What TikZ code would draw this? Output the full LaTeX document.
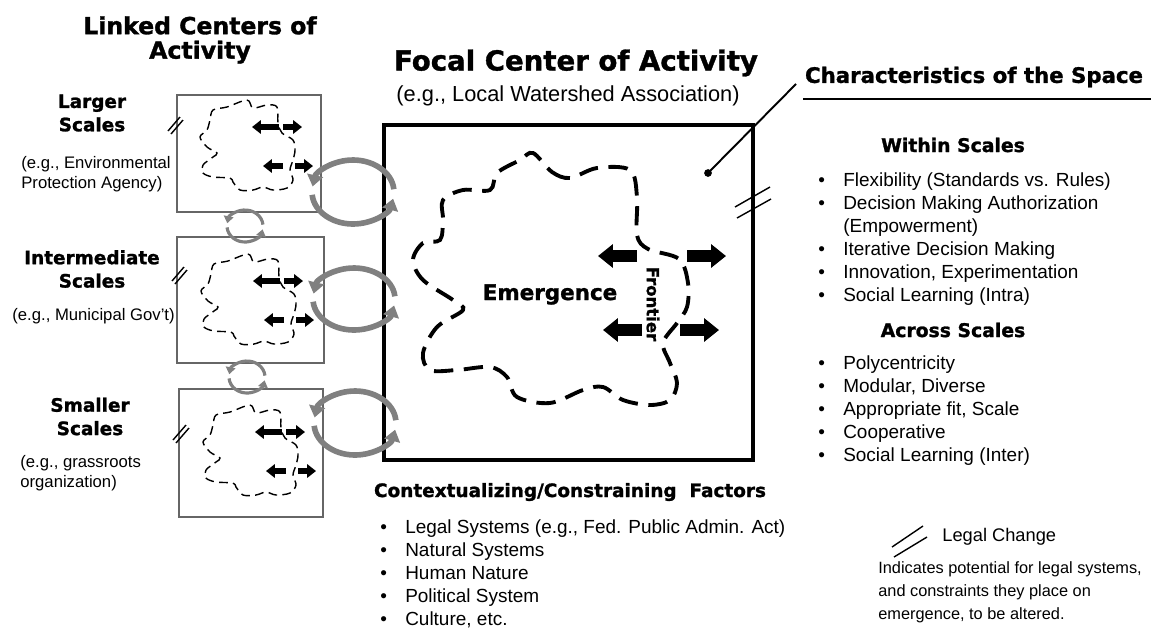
\documentclass[tikz,border=0pt]{standalone}
\usepackage{fontspec}
\setmainfont{Liberation Sans}
\newfontfamily\headfont{DejaVu Sans}[BoldFeatures={FakeBold=1.3}]
\usetikzlibrary{arrows.meta}

\tikzset{
  every node/.style={inner sep=0pt},
  scalebox/.style={draw=black!60, line width=0.8pt},
  focalbox/.style={draw=black, line width=2.3pt},
  bigcloud/.style={line width=2.2pt, dash pattern=on 11pt off 6pt},
  smallcloud/.style={line width=0.8pt, dash pattern=on 5pt off 3pt},
  pushbig/.style={line width=6.3pt, -{Triangle[width=13pt,length=8.5pt]}},
  pushsmall/.style={line width=3.4pt, -{Triangle[width=7.5pt,length=5pt]}},
  loopbig/.style={draw=black!50, line width=3.2pt, -{Triangle[width=9pt,length=6.5pt]}},
  loopsmall/.style={draw=black!50, line width=1.8pt, -{Triangle[width=5.5pt,length=4pt]}},
  legal/.style={line width=0.8pt},
  heading/.style={font=\headfont\bfseries\fontsize{13.4}{13.9}\selectfont, align=center},
  scalename/.style={font=\headfont\bfseries\fontsize{10.5}{13.3}\selectfont, align=center},
  listhead/.style={font=\headfont\bfseries\fontsize{10.7}{12}\selectfont},
  example/.style={font=\fontsize{9.5}{11.4}\selectfont, align=left, anchor=west},
  body/.style={font=\fontsize{10.8}{13.1}\selectfont},
  % one linked center: cloud plus frontier arrows
  subcenter/.pic={
    \draw[smallcloud] plot[smooth cycle, tension=0.55] coordinates {
      (50,12) (70,5) (76,13) (90,10) (100,12) (101,28) (105,38) (116,45)
      (118,55) (116,65) (113,75) (116,85) (110,93) (96,95) (86,92) (76,95)
      (63,95) (56,87) (53,83) (36,82) (26,78) (26,70) (36,62) (40,58)
      (30,52) (23,42) (30,35) (33,25) (36,15)};
    \draw[pushsmall] (102,32) -- (75,32);
    \draw[pushsmall] (106,32) -- (125,32);
    \draw[pushsmall] (106,71) -- (86,71);
    \draw[pushsmall] (118,71) -- (136,71);
  }
}

\begin{document}
\begin{tikzpicture}[x=0.02cm, y=-0.02cm]
  \useasboundingbox (0,0) rectangle (1151,640);

  % linked centers of activity
  \node[heading] (linked) at (200,40) {Linked Centers of\\Activity};

  \draw[scalebox] (177,95) rectangle (321,212);
  \draw[scalebox] (177,237) rectangle (324,363);
  \draw[scalebox] (179,389) rectangle (323,517);
  \pic at (177,95) {subcenter};
  \pic at (178,249) {subcenter};
  \pic at (180,400) {subcenter};

  \node[scalename] (larger) at (92,113) {Larger\\Scales};
  \node[example] (largereg) at (21,174) {(e.g., Environmental\\Protection Agency)};
  \node[scalename] (inter) at (92,269) {Intermediate\\Scales};
  \node[example] (intereg) at (12,316) {(e.g., Municipal Gov't)};
  \node[scalename] (smaller) at (90,416.5) {Smaller\\Scales};
  \node[example] (smallereg) at (20,473) {(e.g., grassroots\\organization)};

  % legal change marks
  \draw[legal] (168,131) -- (180,117);
  \draw[legal] (171,134) -- (183,120);
  \draw[legal] (172,281) -- (184,267);
  \draw[legal] (175,284) -- (187,270);
  \draw[legal] (173,440) -- (186,425);
  \draw[legal] (176,443) -- (189,428);

  % focal center of activity
  \node[heading, font=\headfont\bfseries\fontsize{15.7}{17}\selectfont] (focalhead) at (576,63) {Focal Center of Activity};
  \node[font=\fontsize{12.4}{14}\selectfont] (focalsub) at (568,96) {(e.g., Local Watershed Association)};
  \draw[focalbox] (384,125) rectangle (753,460);
  \draw[bigcloud] plot[smooth cycle, tension=0.55] coordinates {
    (533,153) (552,172) (570,178) (597,168) (630,170) (637,197) (637,235)
    (648,249) (679,259) (688,283) (687,307) (677,323) (663,343) (670,363)
    (677,383) (670,400) (650,405) (623,400) (603,387) (583,390) (550,403)
    (517,397) (507,377) (490,367) (457,370) (430,370) (423,353) (437,327)
    (463,310) (453,300) (423,280) (413,260) (423,243) (440,240) (443,220)
    (443,200) (463,190) (490,190) (497,173) (520,160)};
  \node[font=\headfont\bfseries\fontsize{12.2}{14}\selectfont, anchor=base] (emergence) at (550,300) {Emergence};
  \node[font=\headfont\bfseries\fontsize{9.4}{11}\selectfont, rotate=-90] (frontier) at (653,304) {Frontier};
  \draw[pushbig] (637,256) -- (598,256);
  \draw[pushbig] (642,330) -- (603,330);
  \draw[pushbig] (687,256) -- (726,256);
  \draw[pushbig] (680,330) -- (719,330);
  \draw[legal] (735,207) -- (770,187);
  \draw[legal] (737,218) -- (771,199);

  % exchanges between centers
  \coordinate (c1) at (353,192);
  \coordinate (c2) at (354,299);
  \coordinate (c3) at (355,423);
  \coordinate (s1) at (245,226);
  \coordinate (s2) at (247,377);
  \foreach \c/\ry in {c1/32, c2/31, c3/32} {
    \draw[loopbig] (\c) ++(-5:41 and \ry) arc[start angle=-5, end angle=-170, x radius=41, y radius=\ry];
    \draw[loopbig] (\c) ++(175:41 and \ry) arc[start angle=175, end angle=12, x radius=41, y radius=\ry];
  }
  \foreach \c in {s1, s2} {
    \draw[loopsmall] (\c) ++(-5:18 and 16) arc[start angle=-5, end angle=-170, x radius=18, y radius=16];
    \draw[loopsmall] (\c) ++(175:18 and 16) arc[start angle=175, end angle=12, x radius=18, y radius=16];
  }

  % characteristics of the space
  \node[font=\headfont\bfseries\fontsize{12.1}{14}\selectfont] (charhead) at (974,77) {Characteristics of the Space};
  \coordinate (spot) at (708,173);
  \coordinate (pointer) at (796,84);
  \fill (spot) circle (2.2pt);
  \draw[line width=1.1pt] (spot) -- (pointer);
  \draw[line width=1.1pt] (803,99) -- (1151,99);

  \node[listhead] (within) at (953,145) {Within Scales};
  \node[body, anchor=base west] (withinlist) at (818,186.7) {%
    \begin{tabular}[t]{@{}l@{\hspace{10.4pt}}l@{}}
      \textbullet & Flexibility (Standards vs. Rules)\\
      \textbullet & Decision Making Authorization\\
                  & (Empowerment)\\
      \textbullet & Iterative Decision Making\\
      \textbullet & Innovation, Experimentation\\
      \textbullet & Social Learning (Intra)
    \end{tabular}};
  \node[listhead] (across) at (953,330) {Across Scales};
  \node[body, anchor=base west] (acrosslist) at (818,369.7) {%
    \begin{tabular}[t]{@{}l@{\hspace{10.4pt}}l@{}}
      \textbullet & Polycentricity\\
      \textbullet & Modular, Diverse\\
      \textbullet & Appropriate fit, Scale\\
      \textbullet & Cooperative\\
      \textbullet & Social Learning (Inter)
    \end{tabular}};

  % contextualizing factors
  \node[listhead, font=\headfont\bfseries\fontsize{10.5}{12}\selectfont] (context) at (570,492) {Contextualizing/Constraining\ \ Factors};
  \node[body, anchor=base west] (contextlist) at (380,533.7) {%
    \begin{tabular}[t]{@{}l@{\hspace{10.4pt}}l@{}}
      \textbullet & Legal Systems (e.g., Fed. Public Admin. Act)\\
      \textbullet & Natural Systems\\
      \textbullet & Human Nature\\
      \textbullet & Political System\\
      \textbullet & Culture, etc.
    \end{tabular}};

  % legend
  \draw[legal] (892,547) -- (923,526);
  \draw[legal] (894,557) -- (927,537);
  \node[font=\fontsize{10.4}{12}\selectfont, anchor=west] (legend) at (942,537) {Legal Change};
  \node[font=\fontsize{9.3}{13.1}\selectfont, align=left, anchor=west] (legendtxt) at (878,592) {Indicates potential for legal systems,\\and constraints they place on\\emergence, to be altered.};
\end{tikzpicture}
\end{document}
